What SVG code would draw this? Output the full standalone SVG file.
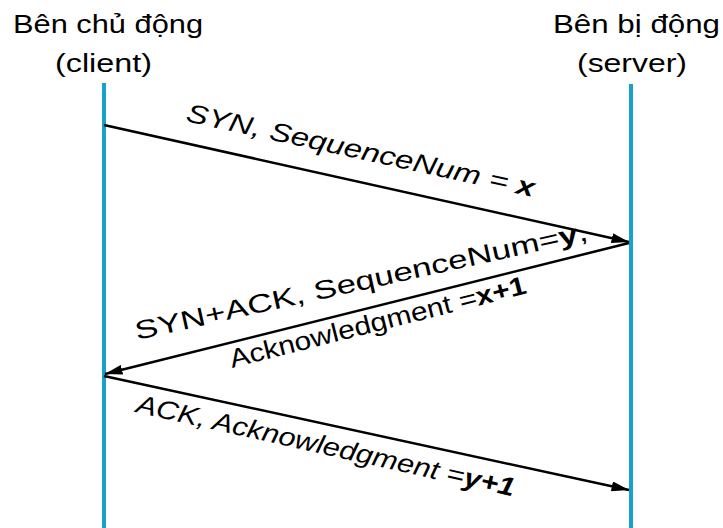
<svg xmlns="http://www.w3.org/2000/svg" width="723" height="528" viewBox="0 0 723 528">
<style>
text{font-family:"Liberation Sans",Arial,sans-serif;font-size:26px;fill:#000}
.it{font-style:italic}
.b{font-weight:bold}
.life{stroke:#17a2c9;stroke-width:4}
.msg{stroke:#000;stroke-width:2.5;fill:none}
</style>
<defs>
<marker id="ah" viewBox="0 0 10 10" refX="10" refY="5" markerWidth="7" markerHeight="4" markerUnits="strokeWidth" orient="auto" preserveAspectRatio="none">
<path d="M0,0 L10,5 L0,10 z" fill="#000"/>
</marker>
</defs>
<rect width="723" height="528" fill="#fff"/>
<g id="client">
<text x="13" y="33" textLength="190" lengthAdjust="spacingAndGlyphs">Bên chủ động</text>
<text x="55" y="72" textLength="97" lengthAdjust="spacingAndGlyphs">(client)</text>
<line class="life" x1="104" y1="83" x2="104" y2="528"/>
</g>
<g id="server">
<text x="553" y="33" textLength="167" lengthAdjust="spacingAndGlyphs">Bên bị động</text>
<text x="577" y="72" textLength="110" lengthAdjust="spacingAndGlyphs">(server)</text>
<line class="life" x1="631" y1="84" x2="631" y2="528"/>
</g>
<g id="connectors">
<line class="msg" x1="104" y1="125" x2="629" y2="242" marker-end="url(#ah)"/>
<line class="msg" x1="629" y1="243" x2="105" y2="374" marker-end="url(#ah)"/>
<line class="msg" x1="104" y1="376" x2="629" y2="490" marker-end="url(#ah)"/>
<text class="it" transform="translate(185,121) rotate(12.3)" textLength="356" lengthAdjust="spacingAndGlyphs">SYN, SequenceNum = <tspan class="b">x</tspan></text>
<text transform="translate(137,340) rotate(-12.5)" textLength="463" lengthAdjust="spacingAndGlyphs">SYN+ACK, SequenceNum=<tspan class="b">y</tspan>,</text>
<text transform="translate(232,368) rotate(-14.2)" textLength="305" lengthAdjust="spacingAndGlyphs">Acknowledgment =<tspan class="b">x+1</tspan></text>
<text class="it" transform="translate(135,412) rotate(12.6)" textLength="387" lengthAdjust="spacingAndGlyphs">ACK, Acknowledgment =<tspan class="b">y+1</tspan></text>
</g>
</svg>
